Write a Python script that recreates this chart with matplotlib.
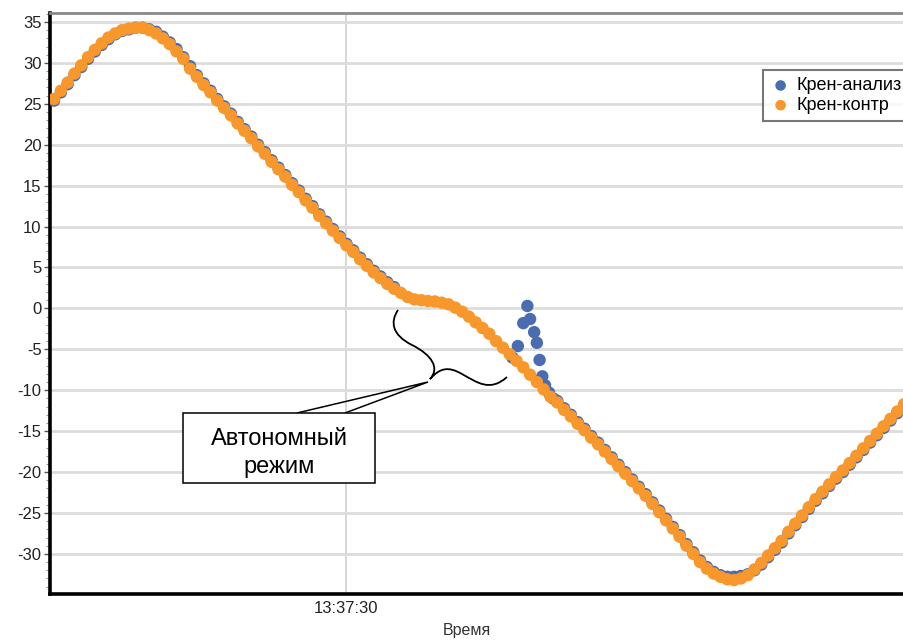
import matplotlib
matplotlib.use("Agg")
from matplotlib import pyplot as plt
from matplotlib.patches import Rectangle, PathPatch
from matplotlib.path import Path
from matplotlib.ticker import MultipleLocator, FuncFormatter
from matplotlib.transforms import Affine2D
import numpy as np

plt.rcParams["font.family"] = ["Liberation Sans", "DejaVu Sans"]
plt.rcParams["axes.unicode_minus"] = False

# time in seconds after 13:37:00
base_h, base_m = 13, 37
t_orange = np.arange(126) * 0.5 + 8.5
roll_control = [
    25.6, 26.6, 27.6, 28.7, 29.7, 30.7, 31.6, 32.4, 33.1, 33.6,
    34.0, 34.2, 34.3, 34.3, 34.0, 33.6, 33.0, 32.3, 31.4, 30.5,
    29.3, 28.3, 27.3, 26.4, 25.4, 24.5, 23.6, 22.6, 21.7, 20.8,
    19.8, 18.9, 17.9, 17.0, 16.1, 15.1, 14.2, 13.2, 12.3, 11.3,
    10.4, 9.5, 8.6, 7.7, 6.9, 6.0, 5.2, 4.4, 3.7, 3.0,
    2.4, 1.9, 1.4, 1.1, 1.0, 0.9, 0.85, 0.7, 0.5, 0.1,
    -0.4, -1.0, -1.7, -2.4, -3.1, -4.0, -4.8, -5.6, -6.4, -7.2,
    -8.1, -9.0, -9.9, -10.8, -11.5, -12.4, -13.2, -14.1, -14.9, -15.8,
    -16.6, -17.5, -18.4, -19.3, -20.2, -21.1, -22.0, -22.9, -23.9, -24.9,
    -25.9, -26.9, -27.9, -29.0, -30.0, -31.0, -31.8, -32.4, -32.8, -33.1,
    -33.2, -33.0, -32.6, -31.9, -31.1, -30.2, -29.3, -28.4, -27.3, -26.3,
    -25.3, -24.3, -23.3, -22.4, -21.5, -20.6, -19.8, -18.9, -18.0, -17.1,
    -16.2, -15.3, -14.4, -13.5, -12.6, -11.7,
]

# analysis series: gap during the autonomous segment, spike when it resumes
t_blue_before = np.arange(51) * 0.5 + 8.5
roll_analysis_before = [
    25.4, 26.4, 27.4, 28.5, 29.5, 30.5, 31.4, 32.2, 32.9, 33.5,
    33.9, 34.1, 34.3, 34.3, 34.1, 33.8, 33.2, 32.5, 31.7, 30.7,
    29.6, 28.5, 27.5, 26.6, 25.6, 24.7, 23.8, 22.8, 21.9, 21.0,
    20.0, 19.1, 18.1, 17.2, 16.3, 15.3, 14.4, 13.4, 12.5, 11.5,
    10.6, 9.7, 8.8, 7.9, 7.1, 6.2, 5.4, 4.6, 3.9, 3.2,
    2.6,
]
t_blue_spike = [42.2, 42.6, 43.0, 43.3, 43.5, 43.8, 44.0, 44.2, 44.4, 44.6, 44.9, 45.2]
roll_analysis_spike = [-6.0, -4.6, -1.8, 0.3, -1.3, -2.9, -4.2, -6.3, -8.3, -9.4, -10.3, -11.0]
t_blue_after = np.arange(52) * 0.5 + 45.5
roll_analysis_after = [
    -11.3, -12.2, -13.0, -13.9, -14.7, -15.6, -16.4, -17.3, -18.2, -19.1,
    -20.0, -20.9, -21.8, -22.7, -23.7, -24.7, -25.7, -26.7, -27.7, -28.8,
    -29.8, -30.8, -31.6, -32.2, -32.6, -32.8, -32.8, -32.7, -32.5, -32.0,
    -31.3, -30.4, -29.5, -28.6, -27.5, -26.5, -25.5, -24.5, -23.5, -22.6,
    -21.7, -20.8, -20.0, -19.1, -18.2, -17.3, -16.4, -15.5, -14.6, -13.7,
    -12.8, -11.9,
]

t_blue = np.concatenate([t_blue_before, t_blue_spike, t_blue_after])
roll_analysis = roll_analysis_before + roll_analysis_spike + roll_analysis_after

blue = "#4a6cb0"
orange = "#f7972c"

W, H = 904, 641
fig = plt.figure(figsize=(W / 100, H / 100), dpi=100)
# axes runs a little past the right edge, as in the cropped original
ax_l, ax_r, ax_t, ax_b = 50, 930, 13, 594
ax = fig.add_axes([ax_l / W, 1 - ax_b / H, (ax_r - ax_l) / W, (ax_b - ax_t) / H])

ax.scatter(t_blue, roll_analysis, s=80, color=blue, edgecolors="none",
           label="Крен-анализ", zorder=3)
ax.scatter(t_orange, roll_control, s=80, color=orange, edgecolors="none",
           label="Крен-контр", zorder=4)

ax.set_xlim(8.2, 8.2 + (ax_r - ax_l) / 13.6)
ax.set_ylim(-34.9, 36.1)

ax.yaxis.set_major_locator(MultipleLocator(5))
ax.yaxis.set_minor_locator(MultipleLocator(1))
ax.set_xticks([30.0])


def fmt_time(v, pos):
    s = int(round(v))
    return "%02d:%02d:%02d" % (base_h, base_m + s // 60, s % 60)


ax.xaxis.set_major_formatter(FuncFormatter(fmt_time))
ax.tick_params(axis="both", labelsize=12, labelcolor="#222222", colors="#555555")
ax.tick_params(axis="y", which="major", length=4, width=1, pad=2)
ax.tick_params(axis="y", which="minor", length=3, width=0.8, color="#999999")
ax.tick_params(axis="x", length=0, pad=5)

ax.grid(axis="y", color="#dcdcdc", lw=2)
ax.grid(axis="x", color="#d0d0d0", lw=1.2)
ax.set_axisbelow(True)

for side in ["left", "bottom"]:
    ax.spines[side].set_color("black")
    ax.spines[side].set_linewidth(2.6)
ax.spines["top"].set_color("#8a8a8a")
ax.spines["top"].set_linewidth(2)
ax.spines["right"].set_visible(False)

ax.set_xlabel("Время", fontsize=11.5, color="#333333")
ax.xaxis.set_label_coords((467 - ax_l) / (ax_r - ax_l), -0.05)

leg = ax.legend(loc="upper left", bbox_to_anchor=(763 / W, 1 - 70 / H),
                bbox_transform=fig.transFigure, borderaxespad=0,
                frameon=True, fancybox=False,
                fontsize=13, handletextpad=0.3, borderpad=0.4,
                labelspacing=0.15, handlelength=1.15, markerscale=0.85)
leg.get_frame().set_edgecolor("#555555")
leg.get_frame().set_linewidth(1.5)

# annotation in image pixels (origin top-left)
px = Affine2D().scale(1, -1).translate(0, H)

brace = Path(
    [(398, 310), (390, 322), (392, 335), (412, 345),
     (432, 355), (440, 368), (430, 379),
     (440, 368), (448, 366), (462, 374),
     (478, 383), (490, 392), (507, 377)],
    [Path.MOVETO, Path.CURVE4, Path.CURVE4, Path.CURVE4,
     Path.CURVE4, Path.CURVE4, Path.CURVE4,
     Path.CURVE4, Path.CURVE4, Path.CURVE4,
     Path.CURVE4, Path.CURVE4, Path.CURVE4])
fig.patches.append(PathPatch(brace, transform=px, fill=False, lw=1.3,
                             edgecolor="black", zorder=10))

wedge = Path([(297, 413), (428, 382), (345, 413)],
             [Path.MOVETO, Path.LINETO, Path.LINETO])
fig.patches.append(PathPatch(wedge, transform=px, fill=False, lw=1.1,
                             edgecolor="black", zorder=10))
fig.patches.append(Rectangle((183, 413), 192, 70, transform=px,
                             facecolor="white", edgecolor="black", lw=1.1,
                             zorder=11))
fig.text(279, 453, "Автономный\nрежим", transform=px, ha="center",
         va="center", fontsize=17, linespacing=1.3, zorder=12)

fig.savefig("out.png", dpi=100)
